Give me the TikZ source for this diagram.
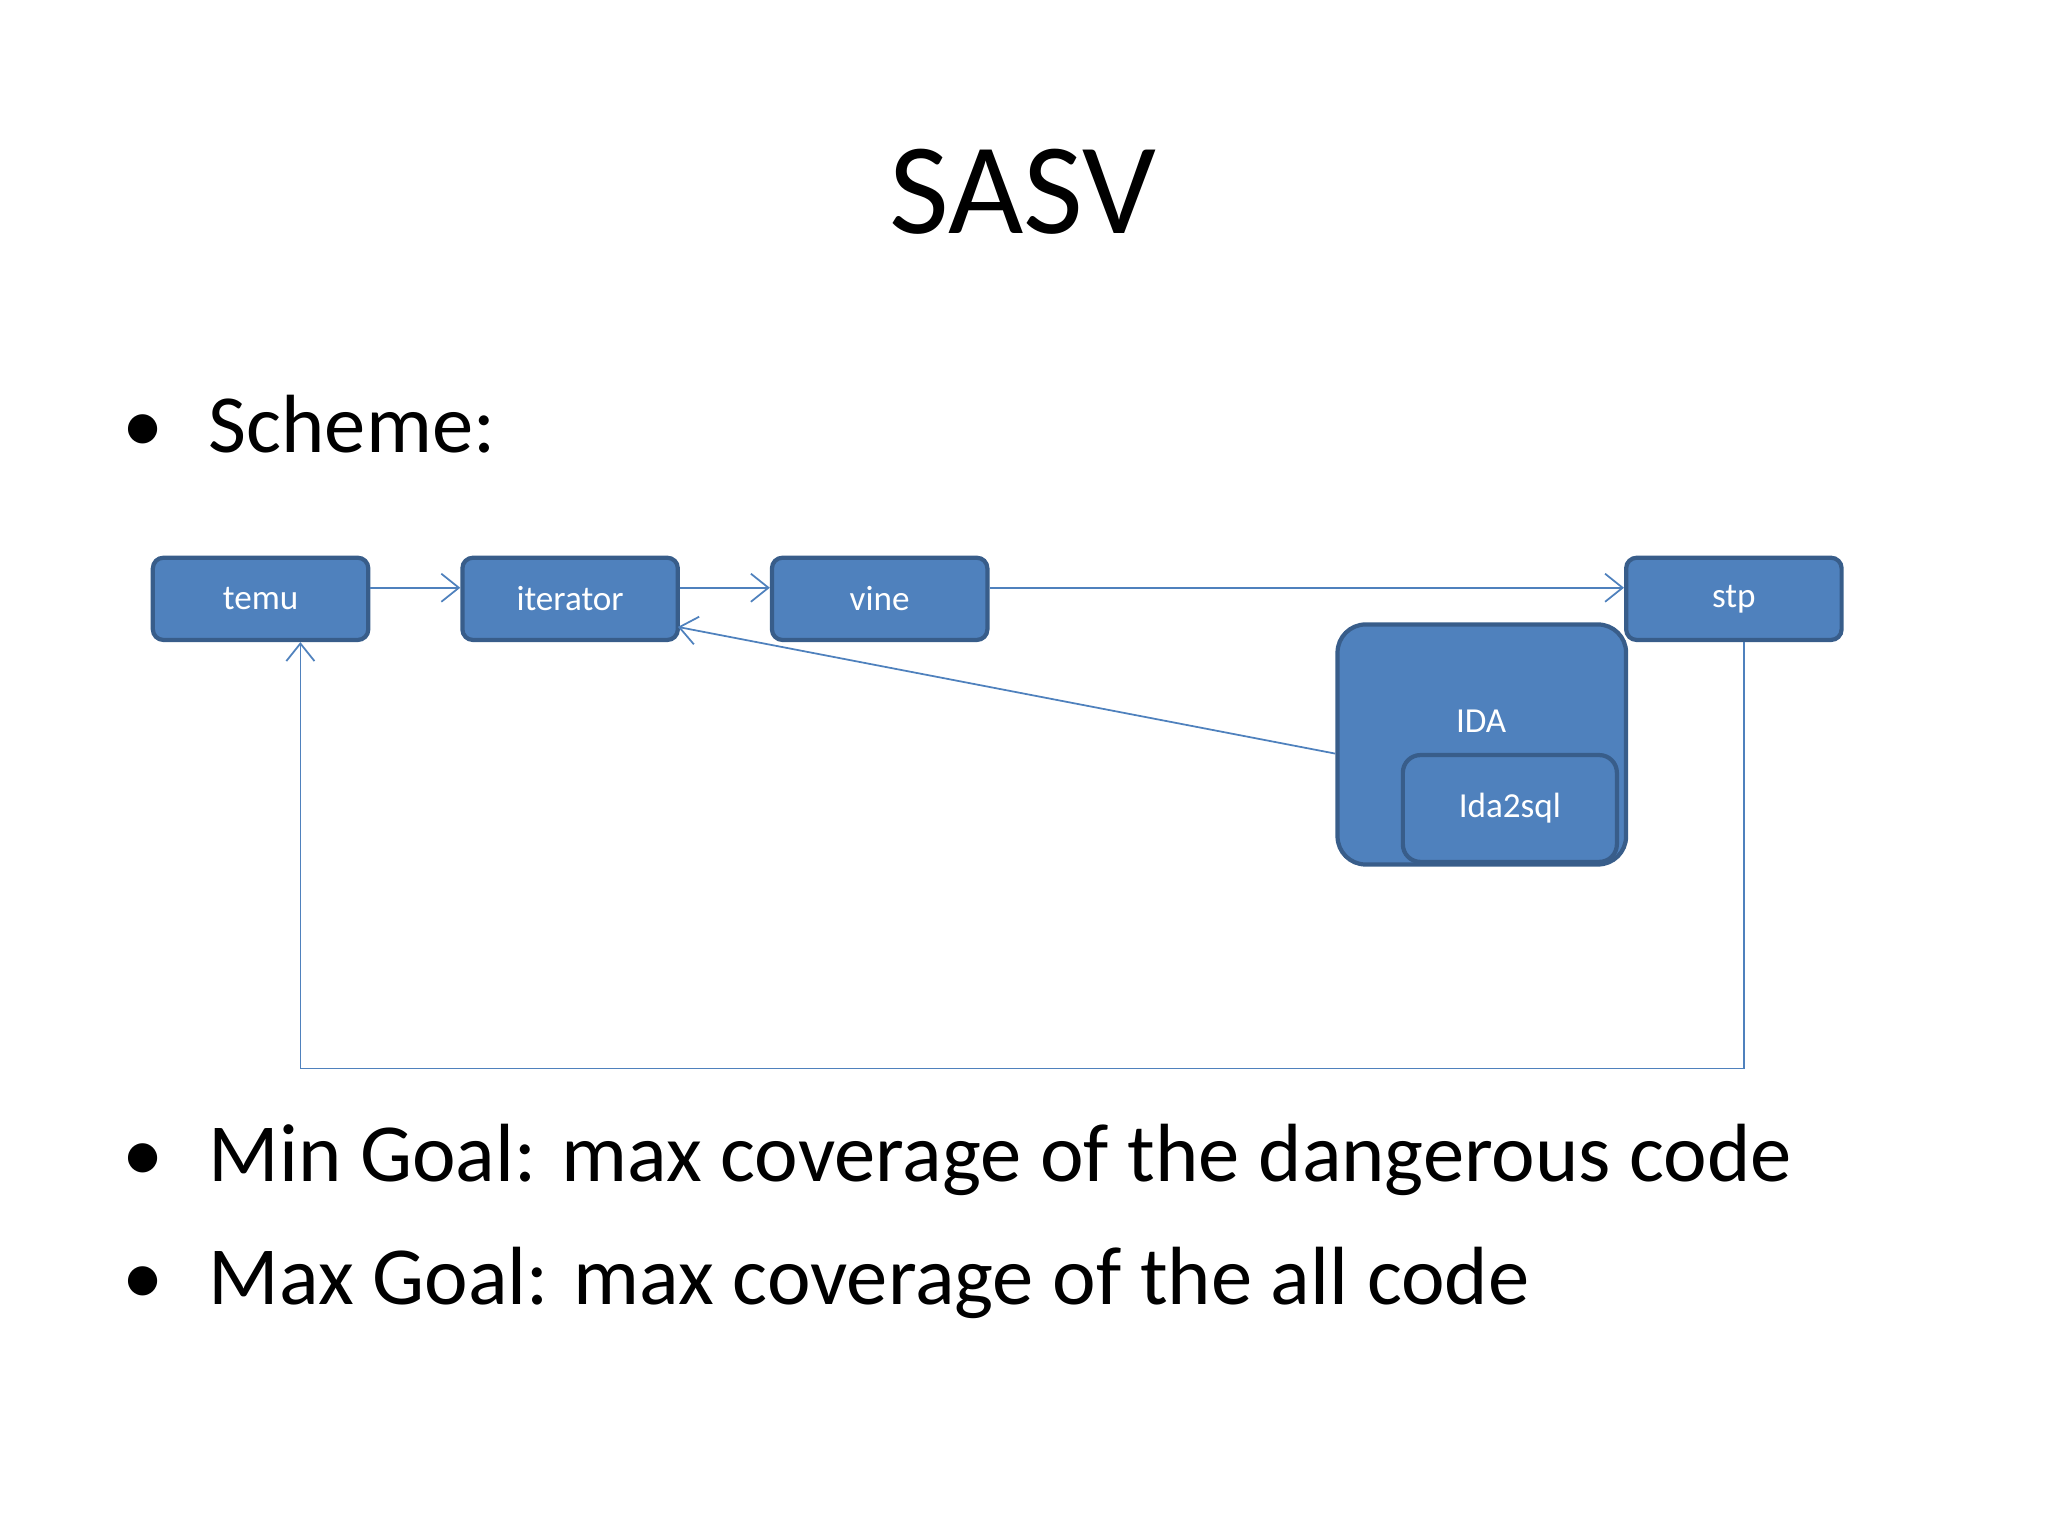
\documentclass[tikz,border=0pt]{standalone}
\usepackage{fontspec}
\setmainfont{Carlito}
\usetikzlibrary{arrows.meta}
\definecolor{boxfill}{HTML}{4F81BD}
\definecolor{boxline}{HTML}{385D8A}
\begin{document}
\begin{tikzpicture}[x=0.01306cm,y=-0.01306cm,
  box/.style={draw=boxline,line width=1.2pt,fill=boxfill,rounded corners=3pt,text=white,font=\fontsize{10}{12}\selectfont,inner sep=0pt},
  sbox/.style={box,minimum width=61.3pt,minimum height=23.4pt},
  conn/.style={draw=boxfill,line width=0.5pt,-{Straight Barb[length=5pt,width=8pt]}},
  bul/.style={anchor=west,font=\fontsize{23.5}{28}\selectfont,inner sep=0pt}]
\useasboundingbox (0,0) rectangle (1568,1176);
\node[font=\fontsize{37}{44}\selectfont] (title) at (783,147) {SASV};
\node[bul] (b1) at (93,325) {•\hspace{0.55em}Scheme:};
\node[bul] (b2) at (93,888) {•\hspace{0.55em}Min Goal: max coverage of the dangerous code};
\node[bul] (b3) at (93,982) {•\hspace{0.55em}Max Goal: max coverage of the all code};
\node[sbox] (temu) at (199.5,458.5) {temu};
\node[sbox] (iter) at (436.5,458.5) {iterator};
\node[sbox] (vine) at (673.5,458.5) {vine};
\node[sbox] (stp) at (1327.5,458.5) {stp};
\node[box,rounded corners=8pt,minimum width=82.1pt,minimum height=68.3pt] (ida) at (1134.5,570) {};
\node[text=white,font=\fontsize{10}{12}\selectfont] (idal) at (1134,552) {IDA};
\node[box,rounded corners=5pt,minimum width=60.9pt,minimum height=30.4pt] (sql) at (1156,619) {Ida2sql};
\coordinate (c1) at (1335,818);
\coordinate (c2) at (230,818);
\draw[conn] (temu.east|-0,450) -- (iter.west|-0,450);
\draw[conn] (iter.east|-0,450) -- (vine.west|-0,450);
\draw[conn] (vine.east|-0,450) -- (stp.west|-0,450);
\draw[conn] (ida.west|-0,577) -- (519,480);
\draw[conn] (stp.south-|c1) -- (c1) -- (c2) -- (temu.south-|c2);
\end{tikzpicture}
\end{document}
